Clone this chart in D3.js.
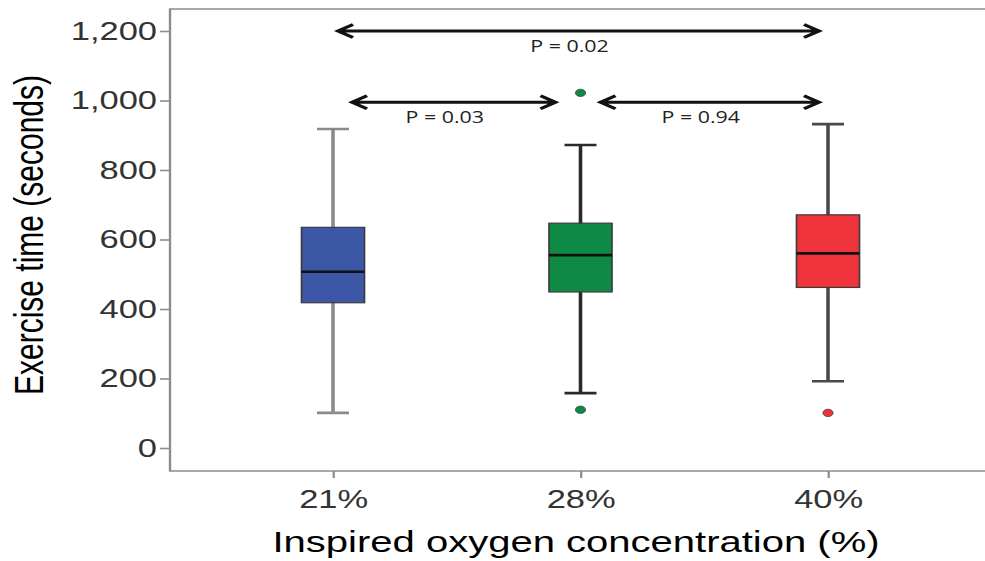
<!DOCTYPE html>
<html>
<head>
<meta charset="utf-8">
<script src="https://cdn.jsdelivr.net/npm/d3@7/dist/d3.min.js"></script>
<style>
  html, body { margin: 0; padding: 0; background: #fff; }
  svg { display: block; }
</style>
</head>
<body>
<svg id="chart" width="985" height="561"></svg>
<script>
// Exercise time by inspired oxygen concentration (box plot summary)
const categories = ["21%", "28%", "40%"];
const lowerWhisker = [101, 158, 192];
const q1 = [418, 449, 462];
const median = [507, 555, 560];
const q3 = [635, 647, 671];
const upperWhisker = [918, 872, 932];
const outliers = [[], [1022, 110], [101]];
const yTicks = [0, 200, 400, 600, 800, 1000, 1200];

// Pairwise comparisons shown as double-headed arrows
const compFrom = ["21%", "21%", "28%"];
const compTo = ["40%", "28%", "40%"];
const compLevel = [1200, 995, 995];
const compLabel = ["P = 0.02", "P = 0.03", "P = 0.94"];

const boxFill = ["#3d57a7", "#0f8a45", "#ef333b"];
const whiskerColor = ["#8a8a8a", "#2a2a2a", "#4a4a4a"];

// The figure is drawn in a horizontally stretched frame
const S = 1.38;
const W = 985, H = 561;
const frameLeft = 170, frameTop = 9, frameBottom = 471;

const svg = d3.select("#chart");
const g = svg.append("g").attr("transform", `scale(${S},1)`);

const x = d3.scalePoint().domain(categories).range([frameLeft / S, 991 / S]).padding(0.6586);
const y = d3.scaleLinear().domain([0, 1200]).range([448, 31]);

const axisColor = "#8c8c8c";
const font = "'Liberation Sans', Arial, sans-serif";

// frame: left, top and bottom edges
g.append("path")
  .attr("d", `M${W / S},${frameTop} H${frameLeft / S} V${frameBottom} H${W / S}`)
  .attr("fill", "none").attr("stroke", axisColor).attr("stroke-width", 1.7);

// y axis
const yAxis = g.append("g").attr("transform", `translate(${frameLeft / S},0)`)
  .call(d3.axisLeft(y).tickValues(yTicks).tickFormat(d3.format(",")).tickSize(10 / S).tickPadding(3 / S).tickSizeOuter(0));
yAxis.select(".domain").remove();
yAxis.selectAll(".tick line").attr("stroke", axisColor).attr("stroke-width", 1.6);
yAxis.selectAll(".tick text").attr("fill", "#333").style("font-family", font).style("font-size", "25px");

// x axis
const xAxis = g.append("g").attr("transform", `translate(0,${frameBottom})`)
  .call(d3.axisBottom(x).tickSize(7).tickPadding(12).tickSizeOuter(0));
xAxis.select(".domain").remove();
xAxis.selectAll(".tick line").attr("stroke", axisColor).attr("stroke-width", 1.6);
xAxis.selectAll(".tick text").attr("fill", "#333").style("font-family", font).style("font-size", "25px");

// axis titles
g.append("text")
  .attr("transform", `translate(${43 / S},235) rotate(-90)`)
  .attr("text-anchor", "middle")
  .style("font-family", font).style("font-size", "30px").attr("fill", "#000")
  .text("Exercise time (seconds)");

g.append("text")
  .attr("x", 576 / S).attr("y", 552)
  .attr("text-anchor", "middle")
  .style("font-family", font).style("font-size", "29px").attr("fill", "#000")
  .text("Inspired oxygen concentration (%)");

// boxes
const boxW = 63 / S, capW = 32 / S;
const rows = categories.map((c, i) => ({ c, i }));
const box = g.selectAll(".box").data(rows).join("g").attr("class", "box");

box.append("line")
  .attr("x1", d => x(d.c)).attr("x2", d => x(d.c))
  .attr("y1", d => y(lowerWhisker[d.i])).attr("y2", d => y(upperWhisker[d.i]))
  .attr("stroke", d => whiskerColor[d.i]).attr("stroke-width", 2.6);
[lowerWhisker, upperWhisker].forEach(arr => {
  box.append("line")
    .attr("x1", d => x(d.c) - capW / 2).attr("x2", d => x(d.c) + capW / 2)
    .attr("y1", d => y(arr[d.i])).attr("y2", d => y(arr[d.i]))
    .attr("stroke", d => whiskerColor[d.i]).attr("stroke-width", 2.6);
});
box.append("rect")
  .attr("x", d => x(d.c) - boxW / 2).attr("width", boxW)
  .attr("y", d => y(q3[d.i])).attr("height", d => y(q1[d.i]) - y(q3[d.i]))
  .attr("fill", d => boxFill[d.i]).attr("stroke", "#3c3c3c").attr("stroke-width", 1.2);
box.append("line")
  .attr("x1", d => x(d.c) - boxW / 2).attr("x2", d => x(d.c) + boxW / 2)
  .attr("y1", d => y(median[d.i])).attr("y2", d => y(median[d.i]))
  .attr("stroke", "#111").attr("stroke-width", 2.6);

// outliers
const outPts = rows.flatMap(d => outliers[d.i].map(v => ({ c: d.c, i: d.i, v })));
g.selectAll(".out").data(outPts).join("circle").attr("class", "out")
  .attr("cx", d => x(d.c)).attr("cy", d => y(d.v)).attr("r", 3.7)
  .attr("fill", d => boxFill[d.i]).attr("stroke", "#333").attr("stroke-width", 0.6);

// comparison arrows
const insetStart = [5, 19, 20];
const insetEnd = [9, 25, 9];
const headL = 15 / S, headV = 6.5;
compFrom.forEach((f, k) => {
  const x1 = x(f) + insetStart[k] / S;
  const x2 = x(compTo[k]) - insetEnd[k] / S;
  const yy = y(compLevel[k]);
  g.append("path")
    .attr("d", `M${x1},${yy} H${x2} M${x1 + headL},${yy - headV} L${x1},${yy} L${x1 + headL},${yy + headV} M${x2 - headL},${yy - headV} L${x2},${yy} L${x2 - headL},${yy + headV}`)
    .attr("fill", "none").attr("stroke", "#111").attr("stroke-width", 3)
    .attr("stroke-linejoin", "miter").attr("stroke-linecap", "butt");
  g.append("text")
    .attr("x", (x1 + x2) / 2 - 9 / S).attr("y", yy + 21)
    .attr("text-anchor", "middle")
    .style("font-family", "'Open Sans', 'Noto Sans', sans-serif").style("font-size", "15.5px")
    .attr("fill", "#222")
    .text(compLabel[k]);
});
</script>
</body>
</html>
